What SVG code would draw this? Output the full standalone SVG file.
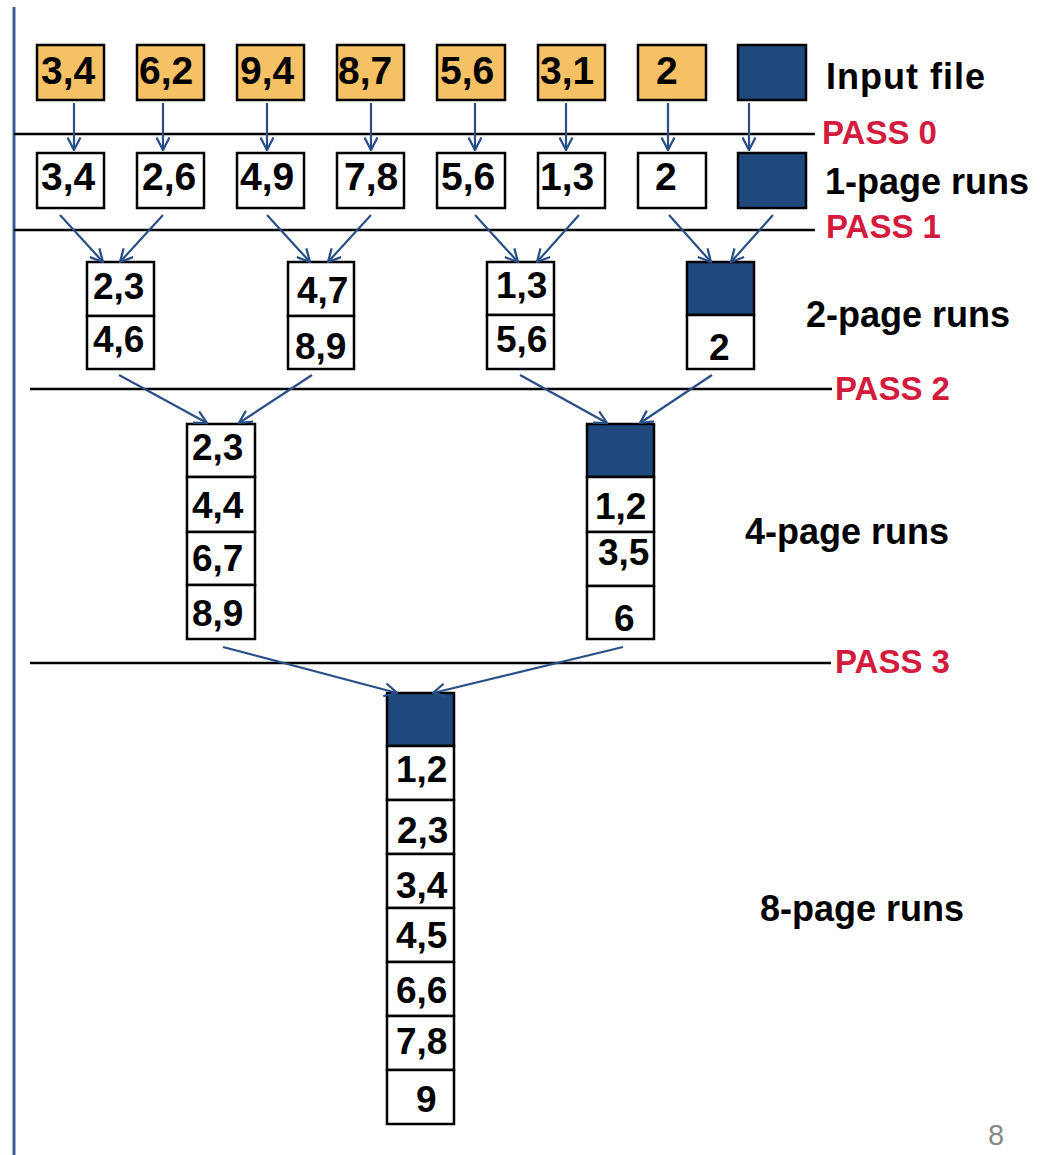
<svg xmlns="http://www.w3.org/2000/svg" width="1046" height="1155" viewBox="0 0 1046 1155">
<style>
.box{fill:#fff;stroke:#000;stroke-width:2.5}
.in{fill:#F6C165;stroke:#000;stroke-width:2.5}
.eof{fill:#1F497D;stroke:#000;stroke-width:2.5}
.d1{font-family:"Liberation Sans",Arial,sans-serif;font-weight:bold;font-size:39px;fill:#000}
.d{font-family:"Liberation Sans",Arial,sans-serif;font-weight:bold;font-size:37px;fill:#000}
.lbl{font-family:"Liberation Sans",Arial,sans-serif;font-weight:bold;font-size:36px;fill:#000}
.pass{font-family:"Liberation Sans",Arial,sans-serif;font-weight:bold;font-size:33px;fill:#D31B3D}
.pl{stroke:#000;stroke-width:2.5}
.ar{stroke:#2A4F86;stroke-width:2.2;fill:none;marker-end:url(#ah)}
</style>
<defs>
<marker id="ah" markerUnits="userSpaceOnUse" viewBox="0 0 12 12" refX="11" refY="6" markerWidth="15" markerHeight="15" orient="auto">
<path d="M1,0.8 L11,6 L1,11.2" fill="none" stroke="#2A4F86" stroke-width="1.8"/>
</marker>
</defs>
<rect width="1046" height="1155" fill="#fff"/>
<line x1="14" y1="7" x2="14" y2="1155" stroke="#3B5E97" stroke-width="3"/>

<g id="pass-lines">
<line class="pl" x1="14" y1="134" x2="815" y2="134"/>
<line class="pl" x1="14" y1="230" x2="815" y2="230"/>
<line class="pl" x1="30" y1="389" x2="832" y2="389"/>
<line class="pl" x1="30" y1="663" x2="831" y2="663"/>
</g>

<g id="labels">
<text class="lbl" x="826" y="89" textLength="159">Input file</text>
<text class="lbl" x="825" y="194">1-page runs</text>
<text class="lbl" x="806" y="327">2-page runs</text>
<text class="lbl" x="745" y="544">4-page runs</text>
<text class="lbl" x="760" y="921">8-page runs</text>
<text class="pass" x="822" y="144">PASS 0</text>
<text class="pass" x="826" y="238">PASS 1</text>
<text class="pass" x="835" y="400">PASS 2</text>
<text class="pass" x="835" y="673">PASS 3</text>
<text x="988" y="1145" font-family="Liberation Sans,Arial,sans-serif" font-size="29" fill="#898989">8</text>
</g>

<g id="input-file">
<g id="in1"><rect class="in" x="37" y="45" width="67" height="55"/><text class="d1" x="41" y="84">3,4</text></g>
<g id="in2"><rect class="in" x="137" y="45" width="67" height="55"/><text class="d1" x="139" y="84">6,2</text></g>
<g id="in3"><rect class="in" x="237" y="45" width="67" height="55"/><text class="d1" x="240" y="84">9,4</text></g>
<g id="in4"><rect class="in" x="337" y="45" width="67" height="55"/><text class="d1" x="338" y="84">8,7</text></g>
<g id="in5"><rect class="in" x="437" y="45" width="68" height="55"/><text class="d1" x="440" y="84">5,6</text></g>
<g id="in6"><rect class="in" x="538" y="45" width="67" height="55"/><text class="d1" x="540" y="84">3,1</text></g>
<g id="in7"><rect class="in" x="638" y="45" width="68" height="55"/><text class="d1" x="656" y="84">2</text></g>
<g id="in8"><rect class="eof" x="738" y="45" width="68" height="55"/></g>
</g>

<g id="runs-1">
<g id="r1a"><rect class="box" x="37" y="153" width="67" height="55"/><text class="d1" x="41" y="190">3,4</text></g>
<g id="r1b"><rect class="box" x="137" y="153" width="67" height="55"/><text class="d1" x="142" y="190">2,6</text></g>
<g id="r1c"><rect class="box" x="237" y="153" width="67" height="55"/><text class="d1" x="240" y="190">4,9</text></g>
<g id="r1d"><rect class="box" x="337" y="153" width="67" height="55"/><text class="d1" x="344" y="190">7,8</text></g>
<g id="r1e"><rect class="box" x="437" y="153" width="68" height="55"/><text class="d1" x="441" y="190">5,6</text></g>
<g id="r1f"><rect class="box" x="538" y="153" width="67" height="55"/><text class="d1" x="540" y="190">1,3</text></g>
<g id="r1g"><rect class="box" x="638" y="153" width="68" height="55"/><text class="d1" x="655" y="190">2</text></g>
<g id="r1h"><rect class="eof" x="738" y="153" width="68" height="55"/></g>
</g>

<g id="runs-2">
<g id="r2a"><rect class="box" x="87" y="262" width="67" height="54"/><rect class="box" x="87" y="316" width="67" height="53"/><text class="d" x="93" y="299">2,3</text><text class="d" x="93" y="352">4,6</text></g>
<g id="r2b"><rect class="box" x="288" y="262" width="66" height="54"/><rect class="box" x="288" y="316" width="66" height="53"/><text class="d" x="297" y="303">4,7</text><text class="d" x="295" y="359">8,9</text></g>
<g id="r2c"><rect class="box" x="487" y="262" width="67" height="53"/><rect class="box" x="487" y="315" width="67" height="54"/><text class="d" x="496" y="298">1,3</text><text class="d" x="496" y="352">5,6</text></g>
<g id="r2d"><rect class="eof" x="687" y="262" width="67" height="53"/><rect class="box" x="687" y="315" width="67" height="54"/><text class="d" x="709" y="360">2</text></g>
</g>

<g id="runs-4">
<g id="r4a">
<rect class="box" x="187" y="424" width="68" height="53"/><rect class="box" x="187" y="477" width="68" height="55"/><rect class="box" x="187" y="532" width="68" height="53"/><rect class="box" x="187" y="585" width="68" height="54"/>
<text class="d" x="192" y="460">2,3</text><text class="d" x="192" y="518">4,4</text><text class="d" x="192" y="571">6,7</text><text class="d" x="192" y="626">8,9</text>
</g>
<g id="r4b">
<rect class="eof" x="587" y="424" width="67" height="53"/><rect class="box" x="587" y="477" width="67" height="55"/><rect class="box" x="587" y="532" width="67" height="54"/><rect class="box" x="587" y="586" width="67" height="53"/>
<text class="d" x="595" y="519">1,2</text><text class="d" x="598" y="565">3,5</text><text class="d" x="614" y="631">6</text>
</g>
</g>

<g id="runs-8">
<rect class="eof" x="387" y="693" width="67" height="53"/>
<rect class="box" x="387" y="746" width="67" height="54"/>
<rect class="box" x="387" y="800" width="67" height="54"/>
<rect class="box" x="387" y="854" width="67" height="54"/>
<rect class="box" x="387" y="908" width="67" height="54"/>
<rect class="box" x="387" y="962" width="67" height="54"/>
<rect class="box" x="387" y="1016" width="67" height="54"/>
<rect class="box" x="387" y="1070" width="67" height="54"/>
<text class="d" x="396" y="782">1,2</text>
<text class="d" x="397" y="843">2,3</text>
<text class="d" x="396" y="898">3,4</text>
<text class="d" x="396" y="948">4,5</text>
<text class="d" x="396" y="1003">6,6</text>
<text class="d" x="396" y="1054">7,8</text>
<text class="d" x="416" y="1112">9</text>
</g>

<g id="connectors">
<line class="ar" x1="74" y1="103" x2="74" y2="150"/>
<line class="ar" x1="163" y1="103" x2="163" y2="150"/>
<line class="ar" x1="267" y1="103" x2="267" y2="150"/>
<line class="ar" x1="371" y1="103" x2="371" y2="150"/>
<line class="ar" x1="475" y1="103" x2="475" y2="150"/>
<line class="ar" x1="566" y1="103" x2="566" y2="150"/>
<line class="ar" x1="668" y1="103" x2="668" y2="150"/>
<line class="ar" x1="749" y1="103" x2="749" y2="150"/>

<line class="ar" x1="60" y1="215" x2="103" y2="262"/>
<line class="ar" x1="163" y1="215" x2="120" y2="262"/>
<line class="ar" x1="267" y1="215" x2="310" y2="262"/>
<line class="ar" x1="371" y1="215" x2="328" y2="262"/>
<line class="ar" x1="475" y1="215" x2="518" y2="262"/>
<line class="ar" x1="579" y1="215" x2="537" y2="262"/>
<line class="ar" x1="669" y1="215" x2="711" y2="262"/>
<line class="ar" x1="773" y1="215" x2="731" y2="262"/>

<line class="ar" x1="119" y1="375" x2="207" y2="423"/>
<line class="ar" x1="312" y1="375" x2="239" y2="423"/>
<line class="ar" x1="520" y1="375" x2="607" y2="423"/>
<line class="ar" x1="712" y1="375" x2="640" y2="423"/>

<line class="ar" x1="223" y1="647" x2="397" y2="693"/>
<line class="ar" x1="623" y1="647" x2="433" y2="693"/>
</g>
</svg>
